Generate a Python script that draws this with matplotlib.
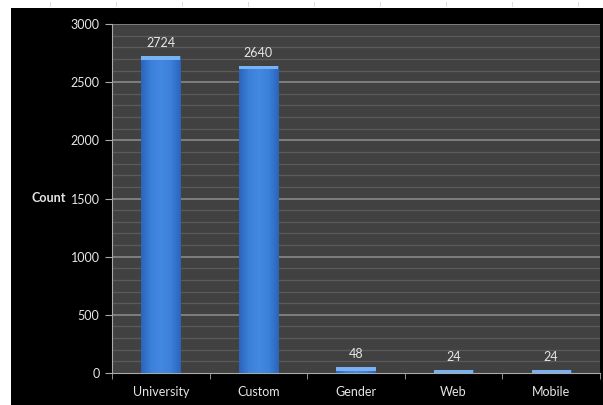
import numpy as np
import matplotlib
matplotlib.use("Agg")
import matplotlib.pyplot as plt
from matplotlib.patches import Rectangle
from matplotlib.colors import LinearSegmentedColormap

categories = ["University", "Custom", "Gender", "Web", "Mobile"]
counts = [2724, 2640, 48, 24, 24]
y_ticks = [0, 500, 1000, 1500, 2000, 2500, 3000]

plt.rcParams["font.family"] = ["Lato", "DejaVu Sans"]

fig = plt.figure(figsize=(6.03, 4.05), dpi=100, facecolor="white")

# black chart frame sitting on a white page
fig.patches.append(Rectangle((11 / 603, 0), 1, 1 - 8 / 405, transform=fig.transFigure,
                             facecolor="black", edgecolor="none", zorder=-10))
for xp in [50, 116, 182, 248, 314, 380, 446, 512, 578]:
    fig.lines.append(plt.Line2D([xp / 603, xp / 603], [1 - 6 / 405, 1 - 2 / 405],
                                transform=fig.transFigure, color="#d8d8d8", lw=0.6,
                                zorder=-10))

ax = fig.add_axes([112 / 603, 1 - 373 / 405, (600 - 112) / 603, (373 - 24) / 405])
ax.set_facecolor("#414141")

x = np.arange(len(categories))
ax.set_xlim(-0.5, len(categories) - 0.5)
ax.set_ylim(0, 3000)

# minor and major horizontal grid
for v in range(100, 3001, 100):
    major = v % 500 == 0
    ax.axhline(v, color="#8e8e8e" if major else "#5a5a5a",
               lw=1.1 if major else 0.9, zorder=1)

bars = ax.bar(x, counts, width=0.4, color="#3a7bd5", zorder=2)

# shaded face for each bar
cmap = LinearSegmentedColormap.from_list(
    "barshade", ["#2b64ba", "#3b80da", "#4389e0", "#3b80da", "#2b64ba"])
grad = np.linspace(0, 1, 256).reshape(1, -1)
for b in bars:
    x0, w, h = b.get_x(), b.get_width(), b.get_height()
    im = ax.imshow(grad, extent=[x0, x0 + w, 0, h], aspect="auto", cmap=cmap,
                   zorder=3, interpolation="bicubic")
    im.set_clip_path(b)
    cap = min(h, 30)
    ax.add_patch(Rectangle((x0, h - cap), w, cap, facecolor="#78b2f3",
                           edgecolor="none", zorder=4))

for xi, c in zip(x, counts):
    ax.annotate(str(c), (xi, c), xytext=(0, 5), textcoords="offset points",
                ha="center", va="bottom", color="#e6e6e6", fontsize=9)

ax.set_yticks(y_ticks)
ax.set_yticklabels([str(t) for t in y_ticks])
ax.set_xticks(x)
ax.set_xticklabels(categories)
ax.set_xticks(np.arange(-0.5, len(categories), 1), minor=True)
ax.tick_params(axis="x", which="major", length=0, pad=9, colors="#e6e6e6", labelsize=9)
ax.tick_params(axis="x", which="minor", length=4, color="#aaaaaa", direction="out")
ax.tick_params(axis="y", length=5, color="#aaaaaa", colors="#e6e6e6", labelsize=9, pad=4)

ax.set_ylabel("Count", rotation=0, color="#e6e6e6", fontsize=9, fontweight="bold",
              va="center", ha="right", labelpad=3)

for side in ["top", "right"]:
    ax.spines[side].set_visible(False)
ax.spines["left"].set_color("#aaaaaa")
ax.spines["bottom"].set_color("#aaaaaa")

fig.savefig("out.png", dpi=100, facecolor=fig.get_facecolor())
